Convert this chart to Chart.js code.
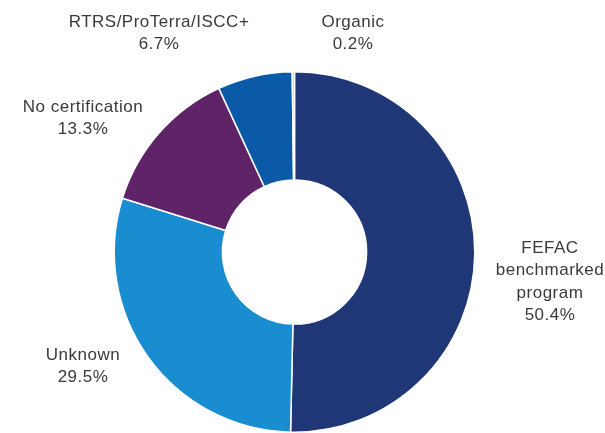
<!DOCTYPE html>
<html>
<head>
<meta charset="utf-8">
<script src="https://cdn.jsdelivr.net/npm/chart.js@4/dist/chart.umd.min.js"></script>
<style>
  html, body { margin: 0; padding: 0; background: #fff; }
  #wrap { width: 605px; height: 433px; position: relative; }
</style>
</head>
<body>
<div id="wrap"><canvas id="c" width="605" height="433"></canvas></div>
<script>
const categories = ["FEFAC benchmarked program", "Unknown", "No certification", "RTRS/ProTerra/ISCC+", "Organic"];
const shares = [50.4, 29.5, 13.3, 6.7, 0.2];
const labelLines = [
  ["FEFAC", "benchmarked", "program"],
  ["Unknown"],
  ["No certification"],
  ["RTRS/ProTerra/ISCC+"],
  ["Organic"]
];
const sliceColors = ["#1f3677", "#1a8dd0", "#5f2468", "#0b5aa8", "#a9c9e6"];

// text anchor (center of the label block's first line), in canvas pixels
const labelAnchors = [
  { x: 550, y: 248 },
  { x: 83, y: 355 },
  { x: 83, y: 107 },
  { x: 159, y: 22 },
  { x: 353, y: 22 }
];

const outsideLabels = {
  id: 'outsideLabels',
  afterDraw(chart) {
    const ctx = chart.ctx;
    ctx.save();
    ctx.font = '17px "Liberation Sans", Arial, sans-serif';
    ctx.letterSpacing = '0.5px';
    ctx.fillStyle = '#3a3a3a';
    ctx.textAlign = 'center';
    ctx.textBaseline = 'middle';
    const lh = 22.5;
    chart.data.labels.forEach((_, i) => {
      const lines = labelLines[i].concat([shares[i].toFixed(1) + '%']);
      const a = labelAnchors[i];
      lines.forEach((t, k) => ctx.fillText(t, a.x, a.y + k * lh));
    });
    ctx.restore();
  }
};

new Chart(document.getElementById('c'), {
  type: 'doughnut',
  data: {
    labels: categories,
    datasets: [{
      data: shares,
      backgroundColor: sliceColors,
      borderColor: '#ffffff',
      borderWidth: 1.5
    }]
  },
  options: {
    responsive: false,
    animation: false,
    cutout: '40%',
    rotation: 0,
    layout: { padding: { top: 71, bottom: 0, left: 100, right: 116 } },
    plugins: { legend: { display: false }, tooltip: { enabled: false } }
  },
  plugins: [outsideLabels]
});
</script>
</body>
</html>
